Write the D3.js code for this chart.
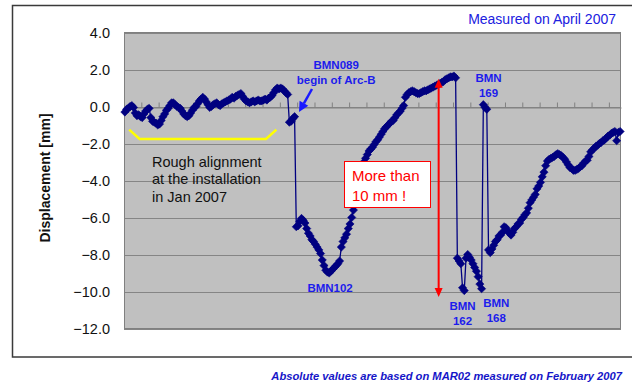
<!DOCTYPE html>
<html>
<head>
<meta charset="utf-8">
<script src="https://cdn.jsdelivr.net/npm/d3@7"></script>
<style>
  html, body { margin: 0; padding: 0; background: #ffffff; }
  svg { display: block; font-family: Arial, "Liberation Sans", sans-serif; }
</style>
</head>
<body>
<svg id="chart" width="632" height="386"></svg>
<script>
// Displacement [mm] measured along the beam line, one value per benchmark
const displacement = [
  -0.3, -0.15, -0.1, 0.0, 0.05, -0.05, -0.35, -0.5, -0.45, -0.55,
  -0.6, -0.4, -0.25, -0.15, -0.1, -0.6, -0.8, -0.85, -0.9, -1.0,
  -0.95, -0.75, -0.55, -0.4, -0.2, -0.1, 0.05, 0.2, 0.2, 0.1,
  0.0, -0.05, -0.1, -0.25, -0.4, -0.5, -0.55, -0.5, -0.35, -0.2,
  -0.05, 0.0, 0.15, 0.3, 0.4, 0.5, 0.4, 0.25, 0.1, -0.05,
  0.0, 0.1, 0.15, 0.2, 0.1, 0.05, 0.15, 0.2, 0.25, 0.3,
  0.35, 0.4, 0.5, 0.45, 0.55, 0.6, 0.65, 0.7, 0.55, 0.4,
  0.3, 0.25, 0.2, 0.25, 0.3, 0.25, 0.3, 0.35, 0.3, 0.3,
  0.35, 0.4, 0.35, 0.45, 0.5, 0.6, 0.75, 0.9, 1.0, 0.95,
  1.0, 0.95, 0.85, 0.75, 0.65, -0.85, -0.8, -0.65, -0.55, -6.5,
  -6.45, -6.2, -6.05, -6.15, -6.3, -6.6, -6.85, -7.0, -7.2, -7.3,
  -7.45, -7.6, -7.75, -7.95, -8.3, -8.6, -8.85, -8.95, -9.0, -8.9,
  -8.8, -8.7, -8.6, -8.5, -8.35, -7.6, -7.3, -7.1, -6.9, -6.6,
  -6.35, -6.0, -5.6, -5.3, -4.9, -4.4, -3.9, -3.3, -3.0, -2.8,
  -2.6, -2.4, -2.3, -2.2, -2.05, -1.9, -1.8, -1.65, -1.5, -1.35,
  -1.2, -1.1, -1.0, -0.9, -0.8, -0.75, -0.6, -0.45, -0.35, -0.25,
  -0.1, 0.05, 0.5, 0.65, 0.75, 0.8, 0.85, 0.8, 0.75, 0.7,
  0.7, 0.75, 0.8, 0.85, 0.85, 0.9, 0.95, 1.0, 1.05, 1.1,
  1.15, 1.2, 1.25, 1.3, 1.35, 1.45, 1.5, 1.55, 1.6, 1.6,
  1.65, 1.55, -8.2, -8.35, -8.5, -9.8, -9.95, -8.2, -8.0, -8.15,
  -8.3, -8.5, -8.7, -8.9, -9.2, -9.6, -9.85, 0.1, -0.05, -0.15,
  -7.75, -7.9, -7.7, -7.5, -7.3, -7.2, -7.0, -6.95, -6.8, -6.5,
  -6.55, -6.7, -6.85, -6.95, -6.8, -6.6, -6.5, -6.35, -6.3, -6.1,
  -6.0, -5.85, -5.75, -5.5, -5.2, -5.05, -4.9, -4.75, -4.45, -4.3,
  -4.1, -3.8, -3.55, -3.2, -2.95, -2.85, -2.8, -2.75, -2.7, -2.6,
  -2.55, -2.6, -2.65, -2.75, -2.85, -3.0, -3.15, -3.3, -3.35, -3.45,
  -3.45, -3.4, -3.35, -3.25, -3.2, -3.05, -2.95, -2.9, -2.7, -2.45,
  -2.35, -2.25, -2.15, -2.1, -2.0, -1.95, -1.85, -1.8, -1.7, -1.6,
  -1.55, -1.45, -1.4, -1.35, -1.85, -1.4, -1.35
];
// Category index of each benchmark along the arc
const stations = displacement.map((_, i) => i);
const categoryTickStep = 10;

// Value axis ticks
const yTicks = [4, 2, 0, -2, -4, -6, -8, -10, -12];
const yDomain = [-12, 4];

// Annotated benchmarks: [text lines, x category, y value of first line]
const benchmarkLabels = [
  { lines: ["BMN089", "begin of Arc-B"], cat: 122.5, val: 2.05 },
  { lines: ["BMN102"], cat: 119, val: -10.05 },
  { lines: ["BMN", "169"], cat: 210.5, val: 1.35 },
  { lines: ["BMN", "162"], cat: 195.5, val: -11.0 },
  { lines: ["BMN", "168"], cat: 215, val: -10.85 }
];
const noteLines = ["Rough alignment", "at the installation", "in Jan 2007"];
const calloutLines = ["More than", "10 mm !"];

const svg = d3.select("#chart");
const plot = { left: 124, right: 621, top: 32.5, bottom: 328.5 };

const x = d3.scaleLinear().domain([0, stations.length]).range([plot.left, plot.right]);
const y = d3.scaleLinear().domain(yDomain).range([plot.bottom, plot.top]);
const cx = i => x(i + 0.5);

// outer frame
svg.append("rect")
  .attr("x", 12.5).attr("y", 5.5).attr("width", 630).attr("height", 351.5)
  .attr("fill", "none").attr("stroke", "#3a3a3a").attr("stroke-width", 1.5);

// plot background
svg.append("rect")
  .attr("x", plot.left).attr("y", plot.top)
  .attr("width", plot.right - plot.left).attr("height", plot.bottom - plot.top)
  .attr("fill", "#c0c0c0");

// horizontal gridlines
svg.append("g").selectAll("line").data(yTicks).join("line")
  .attr("x1", plot.left).attr("x2", plot.right)
  .attr("y1", d => Math.round(y(d)) + 0.5).attr("y2", d => Math.round(y(d)) + 0.5)
  .attr("stroke", "#858585").attr("stroke-width", 1);

// plot border
svg.append("rect")
  .attr("x", plot.left + 0.5).attr("y", plot.top)
  .attr("width", plot.right - plot.left - 1).attr("height", plot.bottom - plot.top)
  .attr("fill", "none").attr("stroke", "#808080").attr("stroke-width", 1);

// category axis crossing at zero, ticks pointing up
const xAxis = d3.axisTop(x)
  .tickValues(d3.range(0, stations.length + 1, categoryTickStep))
  .tickSize(5).tickSizeOuter(0).tickFormat("");
const gx = svg.append("g")
  .attr("transform", `translate(0,${Math.round(y(0)) + 0.5})`)
  .call(xAxis);
gx.select(".domain").attr("stroke", "#808080");
gx.selectAll(".tick line").attr("stroke", "#808080");

// value axis labels
const yAxis = d3.axisLeft(y).tickValues(yTicks).tickFormat(d3.format(".1f")).tickSize(0).tickPadding(14);
const gy = svg.append("g").attr("transform", `translate(${plot.left},0)`).call(yAxis);
gy.select(".domain").remove();
gy.selectAll("text").attr("font-size", 14.5).attr("fill", "#111")
  .attr("font-family", "Arial, 'Liberation Sans', sans-serif");

// axis title
svg.append("text")
  .attr("transform", "translate(50,178) rotate(-90)")
  .attr("text-anchor", "middle")
  .attr("font-size", 14).attr("font-weight", "bold").attr("fill", "#111")
  .text("Displacement [mm]");

// yellow bracket under the early section
const bracket = [[3, -1.25], [9, -1.75], [82, -1.75], [88, -1.25]];
svg.append("path")
  .attr("d", d3.line().x(d => x(d[0])).y(d => y(d[1]))(bracket))
  .attr("fill", "none").attr("stroke", "#ffff00").attr("stroke-width", 2.5);

// series line and diamond markers
const navy = "#000080";
svg.append("path")
  .datum(displacement)
  .attr("d", d3.line().x((d, i) => cx(i)).y(d => y(d)))
  .attr("fill", "none").attr("stroke", navy).attr("stroke-width", 1.3);

const r = 4.1;
svg.append("g").selectAll("path").data(displacement).join("path")
  .attr("transform", (d, i) => `translate(${cx(i)},${y(d)})`)
  .attr("d", `M0,${-r}L${r},0L0,${r}L${-r},0Z`)
  .attr("fill", navy).attr("stroke", navy).attr("stroke-width", 0.6);

// note text
svg.append("text")
  .attr("x", 152).attr("y", 166.5)
  .attr("font-size", 14.5).attr("fill", "#111")
  .selectAll("tspan").data(noteLines).join("tspan")
  .attr("x", 152).attr("dy", (d, i) => i === 0 ? 0 : 17.5)
  .text(d => d);

// callout box
svg.append("rect")
  .attr("x", 344.5).attr("y", 161.5).attr("width", 86).attr("height", 46)
  .attr("fill", "#ffffff").attr("stroke", "#ff0000").attr("stroke-width", 1);
svg.append("text")
  .attr("x", 352).attr("y", 180.5)
  .attr("font-size", 15).attr("fill", "#ff0000")
  .selectAll("tspan").data(calloutLines).join("tspan")
  .attr("x", 352).attr("dy", (d, i) => i === 0 ? 0 : 20)
  .text(d => d);

// red double arrow spanning the step
const redX = cx(181.2);
const redTop = y(1.5), redBottom = y(-10.3);
svg.append("line")
  .attr("x1", redX).attr("x2", redX).attr("y1", redTop + 6).attr("y2", redBottom - 6)
  .attr("stroke", "#ff0000").attr("stroke-width", 2);
svg.append("path")
  .attr("d", `M${redX},${redTop}L${redX + 4},${redTop + 9}L${redX - 4},${redTop + 9}Z`)
  .attr("fill", "#ff0000");
svg.append("path")
  .attr("d", `M${redX},${redBottom}L${redX + 4},${redBottom - 9}L${redX - 4},${redBottom - 9}Z`)
  .attr("fill", "#ff0000");

// blue arrow pointing at BMN089
const ax0 = 312, ay0 = 89, ax1 = 299, ay1 = 112;
const ang = Math.atan2(ay1 - ay0, ax1 - ax0);
const hl = 10, hw = 5;
const bx = ax1 - hl * Math.cos(ang), by = ay1 - hl * Math.sin(ang);
svg.append("line")
  .attr("x1", ax0).attr("y1", ay0).attr("x2", bx).attr("y2", by)
  .attr("stroke", "#1a1aff").attr("stroke-width", 2.5);
svg.append("path")
  .attr("d", `M${ax1},${ay1}L${bx + hw * Math.sin(ang)},${by - hw * Math.cos(ang)}L${bx - hw * Math.sin(ang)},${by + hw * Math.cos(ang)}Z`)
  .attr("fill", "#1a1aff");

// benchmark labels
benchmarkLabels.forEach(b => {
  const t = svg.append("text")
    .attr("text-anchor", "middle")
    .attr("font-size", 11.5).attr("font-weight", "bold").attr("fill", "#1c1cec")
    .attr("y", y(b.val));
  b.lines.forEach((line, i) => {
    t.append("tspan").attr("x", x(b.cat)).attr("dy", i === 0 ? 0 : 15).text(line);
  });
});

// header and footnote
svg.append("text")
  .attr("x", 616).attr("y", 24).attr("text-anchor", "end")
  .attr("font-size", 14).attr("fill", "#2020e0")
  .text("Measured on April 2007");

svg.append("text")
  .attr("x", 622).attr("y", 380).attr("text-anchor", "end")
  .attr("font-size", 11.2).attr("font-weight", "bold").attr("font-style", "italic")
  .attr("fill", "#1515c8")
  .text("Absolute values are based on MAR02 measured on February 2007");
</script>
</body>
</html>
